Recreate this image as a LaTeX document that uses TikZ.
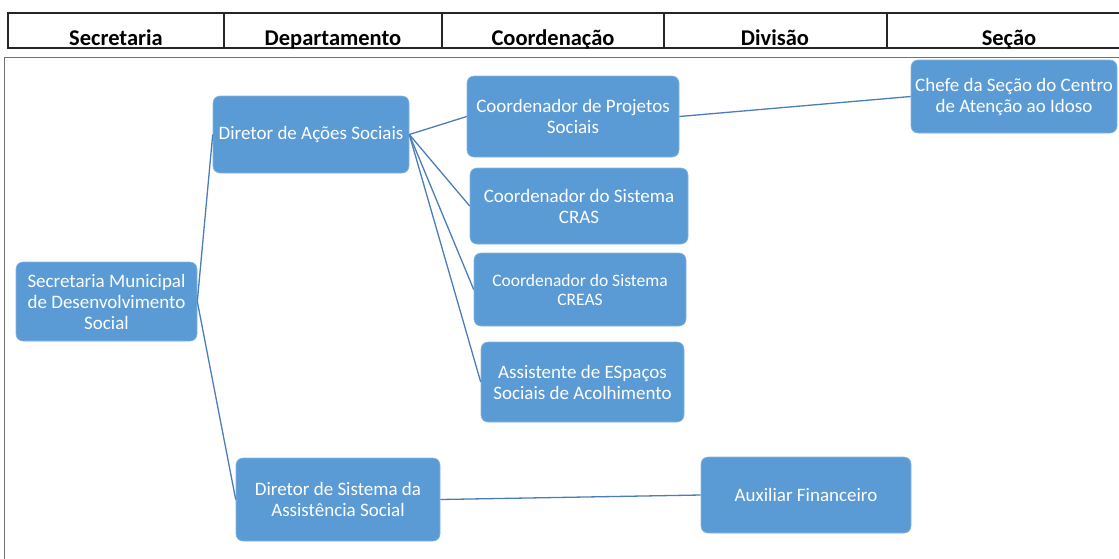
\documentclass[tikz,border=0pt]{standalone}
\usepackage{fontspec}
\setmainfont{Carlito}
\definecolor{boxblue}{HTML}{5B9BD5}
\definecolor{linkblue}{HTML}{4A7EBB}
\begin{document}
\begin{tikzpicture}[x=1pt,y=-1pt,
  cargo/.style={fill=boxblue, draw=boxblue!75!white, line width=0.6pt,
    rounded corners=7pt, text=white, align=center, inner sep=0pt,
    font=\fontsize{19}{21}\selectfont},
  elo/.style={draw=linkblue, line width=1.3pt},
  cabec/.style={font=\bfseries\fontsize{22.5}{24}\selectfont, anchor=base}]
\useasboundingbox (0,0) rectangle (1119,558);

% cabecalho
\begin{scope}
\clip (0,0) rectangle (1119,48.6);
\draw[line width=1.2pt, black!85] (8,13) rectangle (1131,48);
\foreach \x in {224,442,664,887}
  \draw[line width=1.2pt, black!85] (\x,13) -- (\x,48);
\node[cabec] (hsec) at (116,45.5) {Secretaria};
\node[cabec] (hdep) at (333,45.5) {Departamento};
\node[cabec] (hcoo) at (553,45.5) {Coordenação};
\node[cabec] (hdiv) at (775,45.5) {Divisão};
\node[cabec] (hsc)  at (1009,45.5) {Seção};
\end{scope}

% moldura
\draw[black!55, line width=0.8pt] (4,565) -- (4,57) -- (1125,57);

% cargos
\node[cargo, minimum width=181pt, minimum height=79pt] (sec) at (106.5,301.5)
  {Secretaria Municipal\\de Desenvolvimento\\Social};
\node[cargo, minimum width=196pt, minimum height=77pt] (dacoes) at (311,134.5)
  {Diretor de Ações Sociais};
\node[cargo, minimum width=212pt, minimum height=81pt] (cproj) at (573,116.5)
  {Coordenador de Projetos\\Sociais};
\node[cargo, minimum width=206pt, minimum height=73pt] (chefe) at (1014,96.5)
  {Chefe da Seção do Centro\\de Atenção ao Idoso};
\node[cargo, minimum width=218pt, minimum height=76pt] (ccras) at (579,206)
  {Coordenador do Sistema\\CRAS};
\node[cargo, minimum width=212pt, minimum height=73pt,
  font=\fontsize{17.5}{19}\selectfont] (ccreas) at (580,289.5)
  {Coordenador do Sistema\\CREAS};
\node[cargo, minimum width=203pt, minimum height=80pt] (aesp) at (582.5,382)
  {Assistente de ESpaços\\Sociais de Acolhimento};
\node[cargo, minimum width=204pt, minimum height=83pt] (dsis) at (338,499.5)
  {Diretor de Sistema da\\Assistência Social};
\node[cargo, minimum width=210pt, minimum height=76pt] (auxf) at (806,495)
  {Auxiliar Financeiro};

% ligacoes
\draw[elo] (sec.east) -- (dacoes.west);
\draw[elo] (sec.east) -- (dsis.west);
\foreach \n in {cproj,ccras,ccreas,aesp}
  \draw[elo] (dacoes.east) -- (\n.west);
\draw[elo] (cproj.east) -- (chefe.west);
\draw[elo] (dsis.east) -- (auxf.west);
\end{tikzpicture}
\end{document}
